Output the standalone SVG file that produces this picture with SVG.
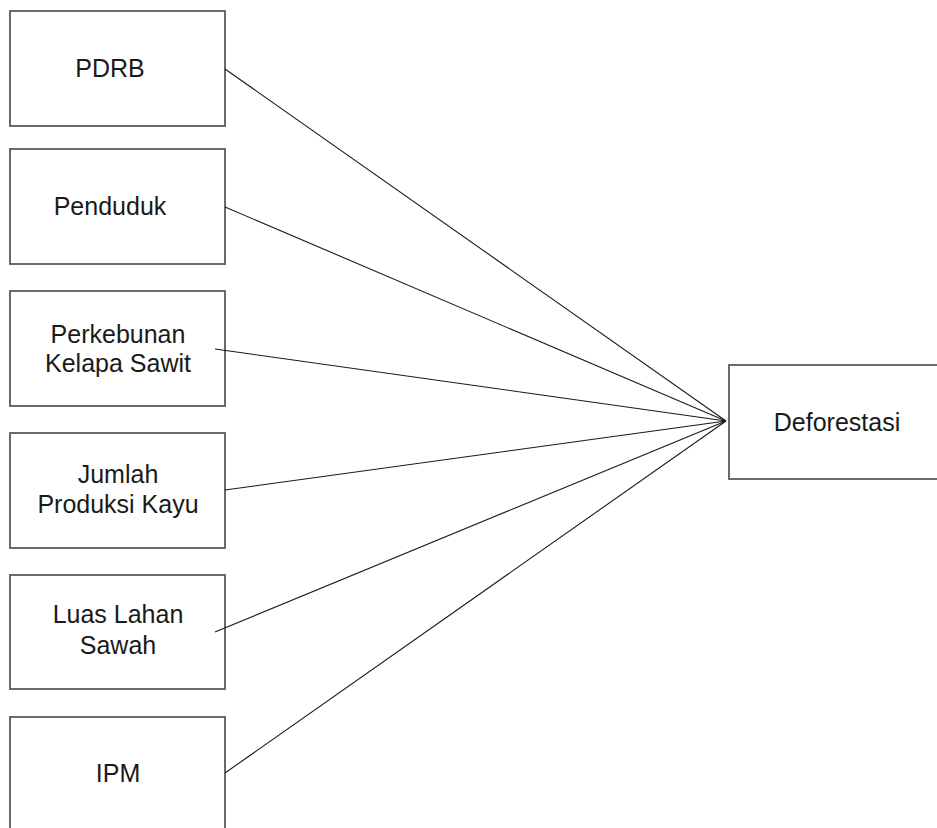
<svg xmlns="http://www.w3.org/2000/svg" width="937" height="828" viewBox="0 0 937 828">
<style>
.box{fill:#fff;stroke:#5a5a5a;stroke-width:1.8}
.t{font-family:"Liberation Sans",Arial,sans-serif;font-size:25px;fill:#1a1a1a;text-anchor:middle}
.c{stroke:#1a1a1a;stroke-width:1.1;fill:none}
</style>
<rect width="937" height="828" fill="#fff"/>
<g id="n-pdrb"><rect class="box" x="10" y="11" width="215" height="115"/><text class="t" x="110" y="77">PDRB</text></g>
<g id="n-penduduk"><rect class="box" x="10" y="149" width="215" height="115"/><text class="t" x="110" y="215">Penduduk</text></g>
<g id="n-sawit"><rect class="box" x="10" y="291" width="215" height="115"/><text class="t" x="118" y="343">Perkebunan</text><text class="t" x="118" y="372">Kelapa Sawit</text></g>
<g id="n-kayu"><rect class="box" x="10" y="433" width="215" height="115"/><text class="t" x="118" y="483">Jumlah</text><text class="t" x="118" y="513">Produksi Kayu</text></g>
<g id="n-sawah"><rect class="box" x="10" y="575" width="215" height="114"/><text class="t" x="118" y="623">Luas Lahan</text><text class="t" x="118" y="654">Sawah</text></g>
<g id="n-ipm"><rect class="box" x="10" y="717" width="215" height="120"/><text class="t" x="118" y="782">IPM</text></g>
<g id="n-deforestasi"><rect class="box" x="729" y="365" width="220" height="114"/><text class="t" x="837" y="431">Deforestasi</text></g>
<g id="connectors">
<line class="c" x1="225" y1="69" x2="726" y2="421"/>
<line class="c" x1="225" y1="207" x2="726" y2="421"/>
<line class="c" x1="215" y1="349" x2="726" y2="421"/>
<line class="c" x1="225" y1="490" x2="726" y2="421"/>
<line class="c" x1="215" y1="632" x2="726" y2="421"/>
<line class="c" x1="225" y1="773" x2="726" y2="421"/>
</g>
</svg>
